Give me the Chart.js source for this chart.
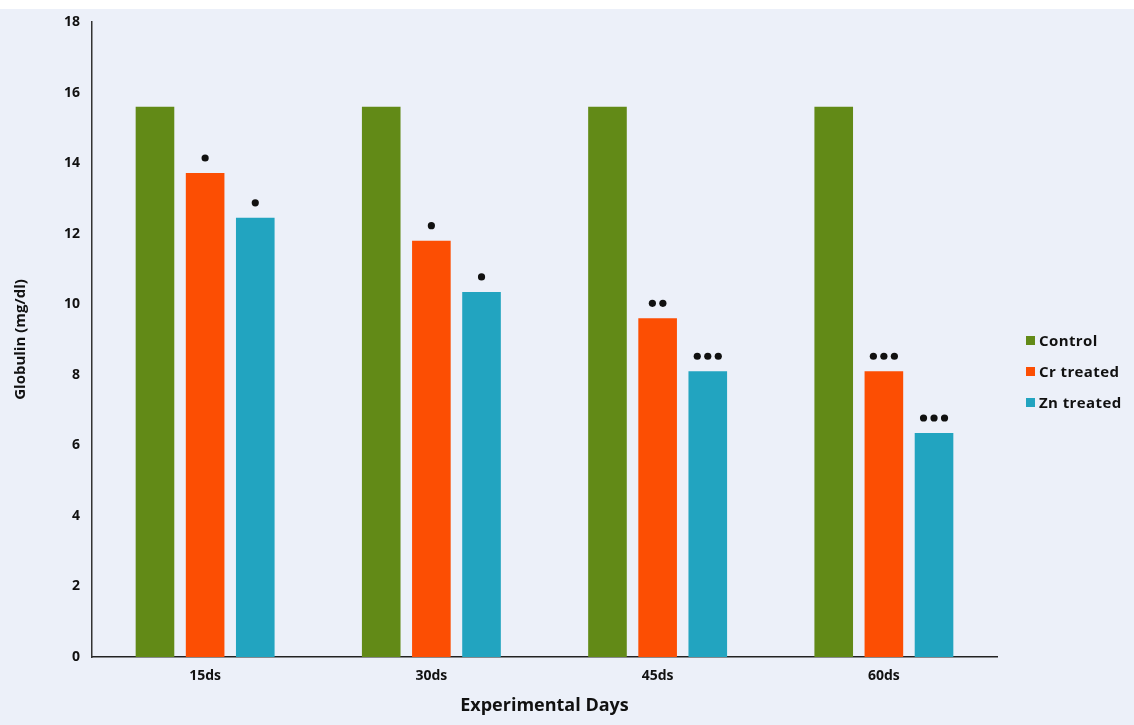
<!DOCTYPE html>
<html>
<head>
<meta charset="utf-8">
<script src="https://cdn.jsdelivr.net/npm/chart.js@4.4.1/dist/chart.umd.min.js"></script>
<style>
  html, body { margin: 0; padding: 0; background: #ecf0f9; }
  #wrap { position: relative; width: 1134px; height: 725px; overflow: hidden; }
  #topstrip { position: absolute; left: 0; top: 0; width: 1134px; height: 9px; background: #fff; }
  #legend { position: absolute; left: 1026px; top: 329px; font: bold 15px "Open Sans", sans-serif; color: #111; letter-spacing: 0.4px; }
  #legend div { height: 31px; line-height: 22px; white-space: nowrap; }
  #legend span { display: inline-block; width: 9px; height: 9px; margin-right: 4px; vertical-align: 1px; }
</style>
</head>
<body>
<div id="wrap">
  <div id="topstrip"></div>
  <canvas id="chart" width="1134" height="725"></canvas>
  <div id="legend"></div>
</div>
<script>
const categories = ['15ds', '30ds', '45ds', '60ds'];
const seriesNames = ['Control', 'Cr treated', 'Zn treated'];
const control = [15.6, 15.6, 15.6, 15.6];
const crTreated = [13.72, 11.8, 9.6, 8.1];
const znTreated = [12.45, 10.35, 8.1, 6.35];
const crMarks = ['*', '*', '**', '***'];
const znMarks = ['*', '*', '***', '***'];
const colors = ['#628a17', '#fc4e03', '#22a4c0'];

const font = '"Open Sans", sans-serif';

// significance dots above the treated bars
const marksPlugin = {
  id: 'marks',
  afterDatasetsDraw(chart) {
    const ctx = chart.ctx;
    const sets = [null, crMarks, znMarks];
    ctx.save();
    ctx.fillStyle = '#111';
    sets.forEach((marks, di) => {
      if (!marks) return;
      chart.getDatasetMeta(di).data.forEach((bar, i) => {
        const n = marks[i].length;
        for (let k = 0; k < n; k++) {
          const x = bar.x + (k - (n - 1) / 2) * 10.5;
          ctx.beginPath();
          ctx.arc(x, bar.y - 15, 3.6, 0, Math.PI * 2);
          ctx.fill();
        }
      });
    });
    ctx.restore();
  }
};

new Chart(document.getElementById('chart'), {
  type: 'bar',
  data: {
    labels: categories,
    datasets: [
      { label: seriesNames[0], data: control, backgroundColor: colors[0] },
      { label: seriesNames[1], data: crTreated, backgroundColor: colors[1] },
      { label: seriesNames[2], data: znTreated, backgroundColor: colors[2] }
    ]
  },
  options: {
    responsive: false,
    animation: false,
    layout: { padding: { left: 0, right: 137, top: 22, bottom: 0 } },
    datasets: { bar: { categoryPercentage: 0.665, barPercentage: 0.77 } },
    plugins: { legend: { display: false }, tooltip: { enabled: false } },
    scales: {
      x: {
        grid: { display: false, drawTicks: false },
        border: { color: '#222', width: 1.5 },
        ticks: { color: '#111', font: { family: font, size: 14, weight: 'bold' }, padding: 11 },
        title: { display: true, text: 'Experimental Days', color: '#111', font: { family: font, size: 18, weight: 'bold' }, padding: { top: 0, bottom: 8 } },
        afterFit: s => { s.height = 68; }
      },
      y: {
        min: 0, max: 18,
        grid: { display: false, drawTicks: false },
        border: { color: '#333', width: 1.5 },
        ticks: { stepSize: 2, color: '#111', font: { family: font, size: 14, weight: 'bold' }, padding: 12 },
        title: { display: true, text: 'Globulin (mg/dl)', color: '#111', font: { family: font, size: 15, weight: 'bold' }, padding: { top: 12, bottom: 0 } },
        afterFit: s => { s.width = 92; }
      }
    }
  },
  plugins: [marksPlugin]
});

const legend = document.getElementById('legend');
seriesNames.forEach((name, i) => {
  const row = document.createElement('div');
  const sw = document.createElement('span');
  sw.style.background = colors[i];
  row.appendChild(sw);
  row.appendChild(document.createTextNode(name));
  legend.appendChild(row);
});
</script>
</body>
</html>
